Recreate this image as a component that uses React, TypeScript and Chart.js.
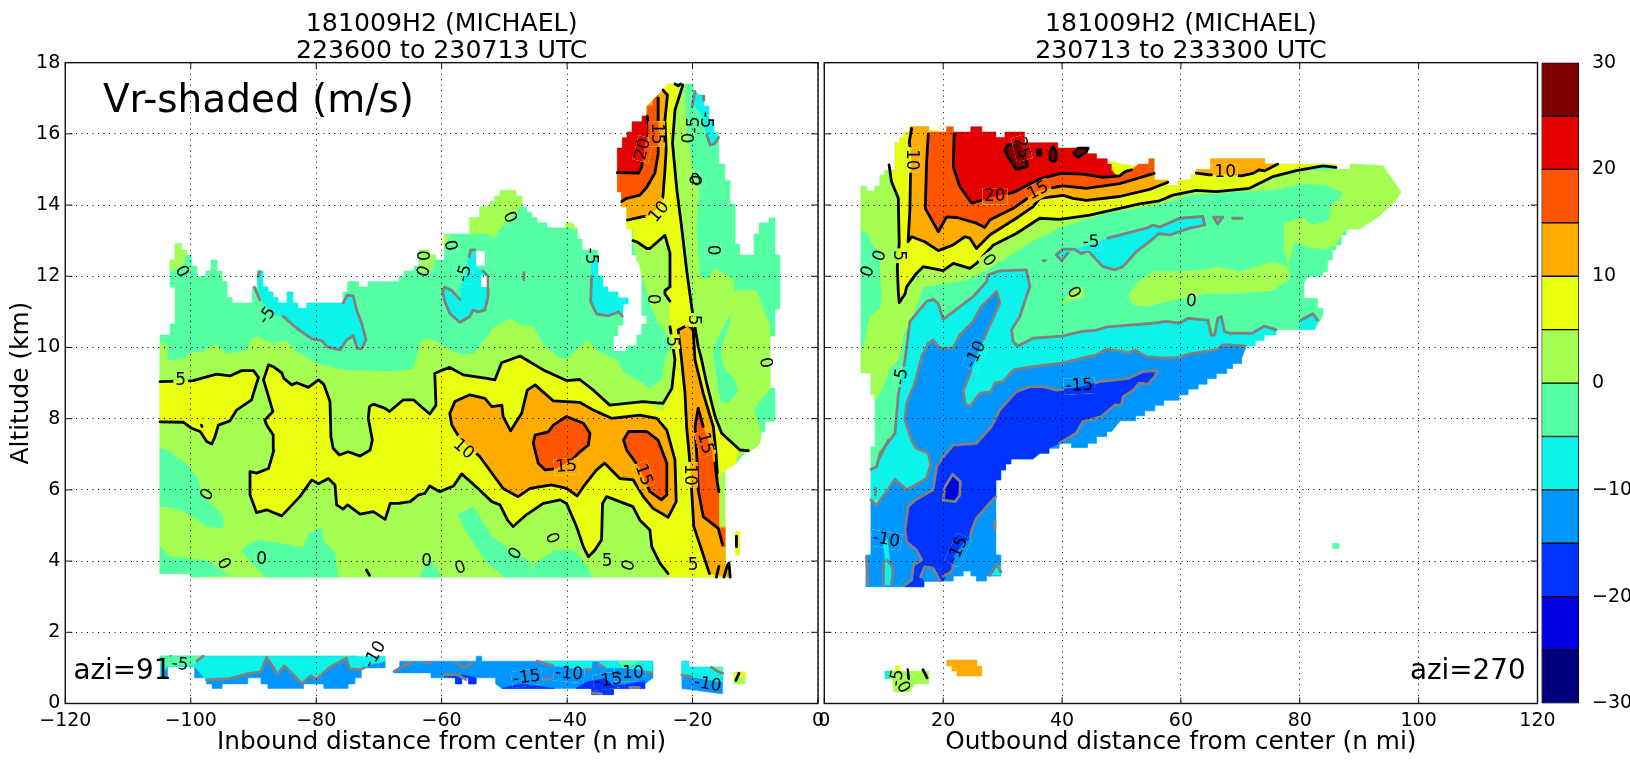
import { useEffect, useRef } from 'react';
import Chart from 'chart.js/auto';

type Pts = number[][];
type Lab = [number, number, string, number];

const levels = [-30, -25, -20, -15, -10, -5, 0, 5, 10, 15, 20, 25];
const levelColors = ['#00007f', '#0000e3', '#0033ff', '#0096ff', '#0cf4ea', '#55ffa4', '#a4ff52', '#e8ff0f', '#ffab00', '#ff5500', '#e50000', '#7f0000'];
const xTicksLeft = [-120, -100, -80, -60, -40, -20, 0];
const xTicksRight = [0, 20, 40, 60, 80, 100, 120];

// ---- left panel, main body outline
const lOutline: Pts = [[-104.9,10.35],[-103.3,10.35],[-103.3,10.66],[-102.5,10.66],[-102.5,11.69],[-103.3,11.69],[-103.3,12.46],[-102.5,12.46],[-102.5,12.91],[-101.5,12.91],[-101.5,12.74],[-100.65,12.74],[-100.65,12.6],[-99.86,12.6],[-99.86,12.29],[-99,12.29],[-99,12],[-97.6,12],[-97.6,12.15],[-96.8,12.15],[-96.8,12.46],[-95.8,12.46],[-95.8,12.15],[-95,12.15],[-95,11.85],[-94.2,11.85],[-94.2,11.4],[-93.4,11.4],[-93.4,11.25],[-90.2,11.25],[-90.2,11.69],[-89.4,11.69],[-89.4,12.15],[-88.5,12.15],[-88.5,11.7],[-87.7,11.7],[-87.7,11.56],[-86.9,11.56],[-86.9,11.4],[-86.1,11.4],[-86.1,11.25],[-84.65,11.25],[-84.65,11.56],[-83.7,11.56],[-83.7,11.25],[-82.9,11.25],[-82.9,11.1],[-81.5,11.1],[-81.5,11.25],[-75.7,11.25],[-75.7,11.56],[-75,11.56],[-75,11.85],[-73.2,11.85],[-73.2,11.7],[-71.75,11.7],[-71.75,11.85],[-66.8,11.85],[-66.8,12],[-66,12],[-66,12.15],[-64.4,12.15],[-64.4,12.29],[-63.6,12.29],[-63.6,12.74],[-62,12.74],[-62,12.6],[-61,12.6],[-61,12.46],[-59.6,12.46],[-59.6,13.19],[-55.5,13.19],[-55.5,13.64],[-53.9,13.64],[-53.9,13.95],[-52.3,13.95],[-52.3,14.09],[-51.5,14.09],[-51.5,14.25],[-50.7,14.25],[-50.7,14.4],[-48.15,14.4],[-48.15,14.25],[-47.2,14.25],[-47.2,13.95],[-46.4,13.95],[-46.4,13.8],[-45.6,13.8],[-45.6,13.65],[-44.8,13.65],[-44.8,13.5],[-43.2,13.5],[-43.2,13.36],[-40.2,13.36],[-40.2,13.5],[-39.2,13.5],[-39.2,13.36],[-38.4,13.36],[-38.4,13.05],[-37.6,13.05],[-37.6,12.74],[-35.1,12.74],[-35.1,12],[-34.3,12],[-34.3,11.7],[-33.5,11.7],[-33.5,11.56],[-31.9,11.56],[-31.9,11.39],[-30.3,11.39],[-30.3,11.22],[-31.1,11.22],[-31.1,10.62],[-31.9,10.62],[-31.9,10.32],[-32.6,10.32],[-32.6,9.9],[-30.5,9.9],[-30.5,10.05],[-28.9,10.05],[-28.9,10.35],[-28.1,10.35],[-28.1,10.66],[-27.3,10.66],[-27.3,10.9],[-28.1,10.9],[-28.1,12.43],[-28.9,12.43],[-28.9,12.6],[-29.66,12.6],[-29.66,13.33],[-30.5,13.33],[-30.5,13.95],[-31.3,13.95],[-31.3,14.37],[-32,14.37],[-32,15.6],[-31.2,15.6],[-31.2,15.89],[-30.45,15.89],[-30.45,16.05],[-29.65,16.05],[-29.65,16.34],[-28.05,16.34],[-28.05,16.5],[-27.25,16.5],[-27.25,16.78],[-26.3,16.78],[-26.3,16.95],[-25.5,16.95],[-25.5,17.09],[-24.7,17.09],[-24.7,17.23],[-23.9,17.23],[-23.9,17.4],[-19.87,17.4],[-19.87,17.23],[-19,17.09],[-18.2,17.09],[-18.2,16.78],[-17.4,16.78],[-17.4,16.34],[-16.6,16.34],[-16.6,16.05],[-15.8,16.05],[-15.8,15.15],[-14.85,15.15],[-14.85,14.7],[-14.04,14.7],[-14.04,14.03],[-13.2,14.03],[-13.2,12.9],[-12.45,12.9],[-12.45,12.6],[-10.2,12.6],[-10.2,13.19],[-9.4,13.19],[-9.4,13.5],[-7.8,13.5],[-7.8,13.64],[-6.85,13.64],[-6.85,12.6],[-6.06,12.6],[-6.06,11.08],[-6.85,11.08],[-6.85,10.32],[-7.65,10.32],[-7.65,8.86],[-6.85,8.86],[-6.85,7.93],[-8.45,7.93],[-8.45,7.63],[-9.25,7.63],[-9.25,7.31],[-10.05,7.31],[-10.05,7.17],[-10.85,7.17],[-11.65,7.03],[-12.45,6.89],[-13.2,6.73],[-14.8,6.56],[-15.8,6.42],[-15.8,4.97],[-14.8,4.97],[-14.8,3.9],[-14,3.55],[-100,3.55],[-100,3.65],[-104.9,3.65]];
const lHoleA: Pts = [[-54.5,12.7],[-53.1,12.7],[-53.1,12.3],[-54.5,12.3]];
const lHoleB: Pts = [[-53.7,12],[-52.3,12],[-52.3,11.7],[-53.7,11.7]];

// ---- left panel, 0..5 areas
const lMainZero: Pts = [[-104.9,10.12],[-103.8,10.12],[-103.7,9.63],[-101.2,9.67],[-99.9,9.85],[-98,9.88],[-95.9,10.1],[-94.3,9.82],[-90.8,9.93],[-90.55,10.2],[-89.5,10.3],[-86.8,10.1],[-84.7,10.18],[-83.1,9.88],[-80,9.55],[-75.7,9.37],[-67.7,9.32],[-64.5,9.4],[-63.7,9.93],[-63.2,10.2],[-61.9,10.26],[-58.1,9.88],[-56.6,9.79],[-54.7,9.84],[-51.8,10.54],[-49.1,10.82],[-47.5,10.63],[-45.4,10.59],[-43.8,10.07],[-41.1,9.7],[-39.8,9.7],[-36.9,10.21],[-35.3,9.93],[-33.2,9.74],[-32.1,9.65],[-30.75,9.27],[-28.4,9.04],[-26.8,8.85],[-24.9,9.09],[-24.4,9.65],[-23.6,10],[-22.5,9.93],[-14.8,6.56],[-14.8,3.9],[-14,3.55],[-100,3.55],[-100,3.65],[-104.9,3.65]];
const lTowerZero: Pts = [[-22,17.4],[-21.2,17.4],[-21.1,16.5],[-20.7,15.9],[-20.2,15.2],[-19.9,14.99],[-18.9,14.42],[-19.45,13.39],[-18.9,11.99],[-17.8,11.9],[-16.4,12.22],[-13.5,11.9],[-13.2,11.15],[-15.1,10.58],[-16.7,10.02],[-16.7,9.65],[-16.1,9.05],[-15.6,8.48],[-14.3,8.43],[-12.7,8.76],[-13.2,9.1],[-14.8,9.4],[-15.3,9.65],[-15.4,10],[-14,10.7],[-13.2,11.6],[-9.8,11.6],[-7.65,10.58],[-7.65,8.85],[-8.7,8.62],[-10.3,8.24],[-9,7.6],[-9.25,7.31],[-10.05,7.17],[-11.65,7.03],[-14,6.9],[-21,9],[-22.5,9.93],[-25.7,10.78],[-26.8,11.24],[-27.9,11.9],[-28.7,12.45],[-29.5,13],[-28,13.3],[-24,17.4]];
const lCapA: Pts = [[-55.5,13.64],[-53.9,13.64],[-53.9,13.95],[-52.3,13.95],[-52.3,14.09],[-51.5,14.09],[-51.5,14.25],[-50.7,14.25],[-50.7,14.4],[-48.15,14.4],[-48.15,14.25],[-47.2,14.25],[-47.3,13.96],[-49.1,13.58],[-50.7,13.35],[-51.5,13.07],[-52.8,13.2],[-55.5,13.2]];
const lCapB: Pts = [[-103.3,12.46],[-102.5,12.46],[-102.5,12.91],[-101.5,12.91],[-101.5,12.74],[-100.65,12.74],[-101.2,12.3],[-103.3,12.15]];
const lCapC: Pts = [[-59.6,13.19],[-58.7,13.19],[-59.2,12.9],[-59.6,12.7]];
const lCapD: Pts = [[-63.46,12.74],[-62,12.74],[-62,12.6],[-61,12.6],[-61.5,12.2],[-63.46,12.08]];
const lCapE: Pts = [[-40.2,13.5],[-39.2,13.5],[-38.4,13.3],[-40.2,13.36]];

// ---- left panel, -5..0 patches in the lower part
const lGreenA: Pts = [[-104.9,7.17],[-103.3,7.07],[-100.9,6.75],[-99,6.37],[-98.5,6.05],[-97.2,5.67],[-95.1,5.34],[-94.7,4.92],[-97.5,4.97],[-99.6,5.25],[-102.2,5.48],[-104.9,5.55]];
const lGreenB: Pts = [[-104.9,4.4],[-103.3,4.12],[-97,4],[-94,3.6],[-100,3.55],[-100,3.65],[-104.9,3.65]];
const lGreenC: Pts = [[-91.9,4.31],[-89.5,4.59],[-85.8,4.5],[-82.05,4.36],[-81.2,4.78],[-79.1,4.92],[-78.9,4.59],[-77,4.22],[-76.5,3.55],[-88,3.55],[-90,3.9]];
const lGreenD: Pts = [[-57.35,5.3],[-55,5.53],[-52,4.69],[-49,4.3],[-46,4],[-45.5,3.55],[-50,3.55],[-53,4],[-56,4.8]];
const lGreenE: Pts = [[-45.4,3.9],[-42,4.3],[-39,4.3],[-37,3.9],[-36,3.55],[-45.5,3.55]];
const lGreenF: Pts = [[-63.5,3.55],[-62,4.1],[-60,3.55]];

// ---- left panel, cyan areas
const lCyanA: Pts = [[-89.4,12.15],[-88.5,12.15],[-88.5,11.7],[-87.7,11.7],[-87.7,11.56],[-86.9,11.56],[-86.9,11.4],[-86.1,11.4],[-86.1,11.25],[-84.65,11.25],[-84.65,11.56],[-83.7,11.56],[-83.7,11.25],[-82.9,11.25],[-82.9,11.1],[-81.5,11.1],[-81.5,11.25],[-75.7,11.25],[-75.05,11.47],[-74.1,11.45],[-73.55,11.05],[-72.75,10.68],[-72.05,10.21],[-72.75,9.97],[-73.45,9.97],[-74.1,10.33],[-75.15,10.21],[-76.2,9.93],[-78.3,10.02],[-79.1,10.19],[-80.7,10.24],[-83.1,10.54],[-85.25,10.87],[-86.85,10.91],[-88.4,11.24],[-89.2,11.6]];
const lCyanB: Pts = [[-55.6,12.74],[-54.7,12.74],[-54.5,12.27],[-53.6,12.18],[-52.6,12],[-52.6,11.43],[-53.1,11.05],[-54.2,11],[-55,11.05],[-55.5,10.87],[-57.1,10.7],[-58.7,10.96],[-59.5,11.29],[-59.85,11.6],[-59.5,11.7],[-58.4,11.6],[-57.1,11.35],[-57,11.7],[-56,12.17]];
const lCyanC: Pts = [[-36.1,12.46],[-35.1,12.46],[-35.1,12],[-34.3,12],[-34.3,11.7],[-33.5,11.7],[-33.5,11.56],[-31.9,11.56],[-31.9,11.39],[-30.3,11.39],[-30.3,11.22],[-31,11.22],[-31.2,10.88],[-31.8,11],[-33.4,10.89],[-35.3,10.94],[-36.25,11.29],[-36.1,12]];
const lCyanD: Pts = [[-19.87,17.23],[-19,17.09],[-18.2,17.09],[-18.2,16.78],[-17.4,16.78],[-17.4,16.34],[-16.6,16.34],[-16.6,16.05],[-15.9,15.9],[-16.6,15.7],[-17.2,15.69],[-17.75,15.97],[-18.5,16.53],[-19.87,16.81]];

// ---- left panel, 5..10 contour sections
const lFiveIsland: Pts = [[-104.9,9.04],[-99.6,9.07],[-95.9,9.25],[-93.75,9.2],[-91.9,9.35],[-90,9.35],[-89.2,9.16],[-90,8.71],[-90.3,8.53],[-92.7,8.24],[-93.75,7.94],[-95.6,7.82],[-96.15,7.49],[-96.65,7.29],[-97.45,7.36],[-98.5,7.64],[-99.85,7.73],[-101.2,7.9],[-104.9,7.91]];
const lFiveUpper: Pts = [[-88.4,9.09],[-87.6,9.51],[-86.85,9.46],[-85.5,9.29],[-85.15,9.13],[-83.9,8.95],[-83.1,9.01],[-81.25,8.88],[-79.65,9.09],[-78.8,8.97],[-77.8,8.48],[-77.65,7.49],[-77.3,7.17],[-76.3,6.98],[-74.9,7.07],[-73,6.95],[-71.4,7.12],[-71.05,7.4],[-71.7,8.01],[-71.5,8.34],[-70.9,8.41],[-69,8.29],[-68.3,8.2],[-66.1,8.53],[-64.5,8.53],[-61.9,8.13],[-60.9,8.38],[-61.1,9.27],[-60.5,9.32],[-58.7,9.44],[-56.55,9.23],[-52.8,9.13],[-51.5,9.09],[-50.45,9.57],[-47.5,9.76],[-43.8,9.37],[-40.1,9.07],[-38,9.1],[-35.8,8.8],[-33.2,8.38],[-27.9,8.48],[-24.7,8.43],[-23.3,8.85],[-22.8,9.65],[-23.6,10.58]];
const lFiveLower: Pts = [[-23.9,3.65],[-25.2,3.94],[-26.5,4.4],[-26.8,4.87],[-28.4,5.15],[-29.5,5.53],[-31.6,5.67],[-33.7,5.81],[-34.35,5.62],[-34.5,4.6],[-35.55,4.31],[-36.6,4.12],[-37.4,4.4],[-38.5,4.97],[-40.1,5.62],[-41.1,5.72],[-43.8,5.62],[-46.5,5.3],[-48.6,4.97],[-49.5,5.15],[-50.7,5.58],[-52,5.67],[-54.2,6.04],[-56.8,6.45],[-58.1,6.11],[-60.3,5.95],[-61.9,6.11],[-62.7,5.9],[-63.7,5.86],[-65,5.67],[-66.9,5.62],[-68.2,5.62],[-69,5.17],[-70.9,5.39],[-73,5.32],[-75,5.58],[-75.7,5.46],[-76.75,5.58],[-77,6.14],[-78.05,6.32],[-79.65,6.17],[-80.7,6.28],[-82.6,5.81],[-85.5,5.27],[-87.9,5.44],[-89.5,5.36],[-90.55,5.86],[-90.55,6.51],[-89.5,6.47],[-87.6,6.6],[-86.75,7.12],[-86.85,7.54],[-87.9,7.82],[-88.2,7.96],[-86.9,8.2],[-87.6,8.62],[-88.4,9.09]];
const lFiveTowerRight: Pts = [[-21.55,17.37],[-22.8,16.67],[-23.2,15.74],[-22.5,14.42],[-21.75,13.39],[-20.95,12.18],[-20.15,11.15],[-19.45,10.4],[-19.1,10.02],[-18.55,9.65],[-17.75,8.99],[-16.4,8.06],[-15.35,7.59],[-12.45,7.12],[-11.1,7.1]];
const lFiveTowerLeft: Pts = [[-23.6,11.3],[-24.4,11.5],[-24.4,11.6],[-23.6,11.7],[-23.6,12.65],[-24.4,13.15],[-26.8,12.78],[-27.3,12.78],[-28.9,12.97],[-29.5,13]];
const lYellowTower: Pts = [[-23.9,17.4],[-21.55,17.4],...lFiveTowerRight.slice(1, 14),[-13.2,6.73],[-14.8,6.56],[-15.8,6.42],[-15.8,4.97],[-14.8,4.97],[-14.8,3.9],[-14,3.55],[-23.9,3.55],[-24,5],[-22.6,5.67],[-22.8,6.84],[-24.7,8.43],[-23.3,8.85],[-22.8,9.65],[-23.6,10.58],...lFiveTowerLeft,[-29.5,13.33],[-30.5,13.33],[-30.5,13.95],[-31.3,13.95],[-31.3,14.2],[-26,16.5],[-25.5,17.09],[-24.7,17.23]];
const lYellowMain: Pts = [...lFiveUpper.slice(0, 41),[-22,8],[-22,3.55],...lFiveLower];
const lYellowBit: Pts = [[-13.2,4.83],[-12.45,4.83],[-12.45,4.17],[-13.2,4.17]];

// ---- left panel, 10..15 and up
const lOrangeMain: Pts = [[-58.4,7.82],[-58.7,8.15],[-57.9,8.48],[-55.5,8.67],[-53.1,8.57],[-52,8.34],[-50.4,8.38],[-50.2,8.06],[-49,7.66],[-47.25,8.15],[-46.35,8.8],[-45.1,8.95],[-42.2,8.5],[-38,8.46],[-35.8,8.24],[-32.9,8.01],[-28.4,8.1],[-25.7,8.01],[-24.1,7.68],[-22.8,6.84],[-22.6,5.67],[-23.9,5.23],[-26.3,5.48],[-27.85,5.81],[-29.45,6.28],[-31.6,6.32],[-34,6.75],[-35.3,6.56],[-37.4,6.09],[-38.4,5.83],[-40.1,6.04],[-42.5,6.14],[-45.9,6.04],[-47.8,5.81],[-50.2,6.04],[-53.9,6.93],[-57.1,7.45],[-58.4,7.82]];
const lFifteenA: Pts = [[-45.4,7.31],[-45.1,7.54],[-43,7.63],[-42.2,7.82],[-40.1,8.06],[-37.4,7.87],[-36.35,7.59],[-36.6,7.26],[-37.95,7.07],[-39.3,6.84],[-41.7,6.6],[-43.5,6.56],[-44.6,6.75],[-45.4,7.31]];
const lFifteenB: Pts = [[-31,7.4],[-30.2,7.64],[-27.3,7.64],[-25.5,7.4],[-24.1,6.75],[-24.1,5.86],[-24.95,5.72],[-26.8,5.95],[-28.4,6.6],[-30.5,7.12],[-31,7.4]];
const lTenStripLeft: Pts = [[-19.9,10.49],[-20.7,10.63],[-22.3,10.49],[-21.75,9.65],[-21.2,8.71],[-20.95,7.78],[-20.5,6.93],[-20.15,6],[-19.8,4.97],[-18.55,4.31],[-17.3,3.65]];
const lTenStripRight: Pts = [[-19.9,10.49],[-19.6,9.65],[-18.3,8.71],[-16.7,7.78],[-16.3,7.12],[-16.05,6.47]];
const lOrangeStrip: Pts = [...lTenStripLeft,[-14,3.55],[-14.8,3.9],[-14.8,4.97],[-15.8,4.97],[-15.8,6.42],[-16.05,6.47],[-16.3,7.12],[-16.7,7.78],[-18.3,8.71],[-19.6,9.65]];
const lFifteenStrip: Pts = [[-19.1,8.29],[-19.6,7.78],[-19.35,7.03],[-19.1,6],[-18.3,5.25],[-15.9,4.92],[-14.8,4.92],[-14.8,4.4],[-15.2,4.45],[-15.8,4.97],[-15.8,5.95],[-16.45,6.47],[-16.96,7.12],[-18.3,7.78]];
const lTowerTen: Pts = [[-24.7,17.23],[-24,17.09],[-24.4,16.39],[-24.2,15.55],[-24.4,14.99],[-24.7,14.28],[-24.9,14.05],[-26.8,13.7],[-28.1,13.67],[-30.4,13.58]];
const lTowerOrange: Pts = [[-31.3,13.95],[-30.5,13.95],[-30.4,13.58],[-28.1,13.67],[-26.8,13.7],[-24.9,14.05],[-24.7,14.28],[-24.4,15],[-24.4,16.39],[-24,17.09],[-24.7,17.23],[-25.5,17.09],[-26.3,16.95],[-27.25,16.78],[-28,15],[-31.3,14.37]];
const lTowerFifteen: Pts = [[-25.5,17],[-25.5,16.5],[-25.45,15.45],[-26,14.9],[-27.3,14.5],[-28.4,14.28],[-30.5,14.19],[-31.3,14.1]];
const lTowerRedOrange: Pts = [[-32,14.91],[-32,14.37],[-31.3,14.37],[-31.3,14.1],[-30.5,14.19],[-28.4,14.28],[-27.3,14.5],[-26,14.9],[-25.45,15.45],[-25.5,17.09],[-26.3,16.95],[-26.3,16.78],[-27.25,16.78],[-27.25,16.5],[-26.9,16.06],[-27.6,15.73],[-28.1,15.08],[-28.6,14.9]];
const lTowerTwenty: Pts = [[-27.2,16.5],[-26.9,16.06],[-27.6,15.73],[-28.1,15.08],[-28.6,14.9],[-32,14.91]];
const lTowerRed: Pts = [[-32,14.91],[-32,15.6],[-31.2,15.6],[-31.2,15.89],[-30.45,15.89],[-30.45,16.05],[-29.65,16.05],[-29.65,16.34],[-28.05,16.34],[-28.05,16.5],[-27.25,16.5],[-26.9,16.06],[-27.6,15.73],[-28.1,15.08],[-28.6,14.9]];

// ---- left panel, low level strips
const lStripA: Pts = [[-104.8,1.33],[-73.4,1.33],[-73.4,1.19],[-69,1.19],[-69,1],[-72.8,1],[-72.8,0.72],[-73.8,0.72],[-73.8,0.55],[-74.9,0.55],[-74.9,0.42],[-78.8,0.42],[-78.8,0.55],[-82,0.55],[-82,0.42],[-87.7,0.42],[-87.7,0.55],[-88.8,0.55],[-88.8,0.72],[-90.9,0.72],[-90.9,0.55],[-95,0.55],[-95,0.42],[-96.6,0.42],[-96.6,0.55],[-97.5,0.55],[-97.5,0.72],[-99.4,0.72],[-99.4,1.04],[-103.7,1.04],[-103.7,0.72],[-104.8,0.72]];
const lStripACyanEdge: Pts = [[-97.5,0.66],[-93.7,0.7],[-90.9,0.84],[-88.8,0.89],[-87.9,1.29],[-87,1.06],[-86.2,0.82],[-85.1,1.06],[-83.7,0.82],[-82.3,0.55],[-80.9,0.78],[-79.9,0.68],[-78,1],[-75.2,1.27]];
const lStripACyan: Pts = [[-104.8,1.33],[-75.2,1.33],...lStripACyanEdge.slice().reverse(),[-99.4,1.04],[-103.7,1.04],[-104.8,0.72]];
const lStripATail: Pts = [[-75.2,1.27],[-74.7,0.98],[-73,0.95],[-71.2,1.1],[-69,1.19],[-69,1.33],[-75.2,1.33]];
const lStripAGreen: Pts = [[-104.8,1.33],[-98,1.33],[-99.4,1.1],[-103.5,1.04],[-104.8,1.1]];
const lStripB: Pts = [[-66.7,1.19],[-54.5,1.19],[-54.5,1.33],[-53.6,1.33],[-53.6,1.19],[-26.3,1.19],[-26.3,0.72],[-27.6,0.55],[-27.6,0.42],[-32.6,0.42],[-32.6,0.25],[-36.1,0.25],[-36.1,0.42],[-50.4,0.42],[-51.4,0.55],[-51.4,0.72],[-54.5,0.72],[-54.5,0.55],[-55.7,0.55],[-55.7,0.72],[-56.8,0.72],[-56.8,0.55],[-57.8,0.55],[-57.8,0.72],[-61.7,0.72],[-61.7,0.86],[-67.6,0.86],[-66.7,1.05]];
const lStripBCyanA: Pts = [[-44.8,1.19],[-36,1.19],[-36.1,0.95],[-37.7,0.97],[-42,1.05]];
const lStripBCyanB: Pts = [[-35,1.19],[-26.3,1.19],[-26.5,0.85],[-28,0.95],[-31,1],[-34,1]];
const lStripBGreen: Pts = [[-32,1.19],[-28.5,1.19],[-30,1.05],[-31,1]];
const lStripBDarkA: Pts = [[-59.6,0.75],[-57.8,0.72],[-57.8,0.55],[-56.8,0.55],[-56.8,0.72],[-55.7,0.72],[-55.7,0.55],[-54.5,0.55],[-54.5,0.72],[-56.5,0.8]];
const lStripBDarkB: Pts = [[-50.4,0.42],[-47.5,0.55],[-45,0.5],[-42,0.42]];
const lStripBDarkC: Pts = [[-38.6,0.42],[-37,0.6],[-34,0.7],[-32.6,0.5],[-30,0.55],[-27.6,0.65],[-27.6,0.42],[-32.6,0.42],[-32.6,0.25],[-36.1,0.25],[-36.1,0.42]];
const lStripC: Pts = [[-21.7,1.19],[-20.6,1.19],[-20.6,1.02],[-15.2,1.02],[-15.2,0.27],[-21.7,0.42]];
const lStripCCyan: Pts = [[-21.7,1.19],[-20.6,1.19],[-20.6,1.02],[-15.2,1.02],[-15.2,0.6],[-18.6,0.7],[-21.7,0.8]];
const lStripCGreen: Pts = [[-17,1.02],[-15.2,1.02],[-15.2,0.86],[-16,0.9]];
const lStripDGreen: Pts = [[-13.4,0.88],[-11.6,0.88],[-11.6,0.55],[-13.4,0.55]];
const lStripDYellow: Pts = [[-13.4,0.88],[-11.6,0.88],[-11.6,0.72],[-13.4,0.72]];

const leftBands: [number, Pts][] = [
  [-5, lOutline], [0, lMainZero], [0, lTowerZero], [0, lCapA], [0, lCapB], [0, lCapC], [0, lCapD], [0, lCapE],
  [-5, lGreenA], [-5, lGreenB], [-5, lGreenC], [-5, lGreenD], [-5, lGreenE], [-5, lGreenF],
  [-10, lCyanA], [-10, lCyanB], [-10, lCyanC], [-10, lCyanD],
  [5, lFiveIsland], [5, lYellowMain], [5, lYellowTower], [5, lYellowBit],
  [10, lOrangeMain], [10, lOrangeStrip], [10, lTowerOrange], [15, lFifteenA], [15, lFifteenB], [15, lFifteenStrip], [15, lTowerRedOrange], [20, lTowerRed],
  [-15, lStripA], [-10, lStripACyan], [-10, lStripATail], [-5, lStripAGreen],
  [-15, lStripB], [-10, lStripBCyanA], [-10, lStripBCyanB], [-5, lStripBGreen], [-20, lStripBDarkA], [-20, lStripBDarkB], [-20, lStripBDarkC],
  [-15, lStripC], [-10, lStripCCyan], [-5, lStripCGreen], [0, lStripDGreen], [5, lStripDYellow],
];

const leftBlack: Pts[] = [
  lFiveIsland, lFiveUpper, lFiveLower, lFiveTowerRight, lFiveTowerLeft, lOrangeMain, lFifteenA, lFifteenB,
  lTenStripLeft, lTenStripRight, lTowerTen, lTowerFifteen, lTowerTwenty,
  [[-19.1,8.29],[-19.6,7.78],[-19.35,7.03],[-19.1,6],[-18.3,5.25],[-15.9,4.92],[-15.2,4.45]],
  [[-19.1,8.29],[-18.3,7.78]],
  [[-16.45,6.75],[-16.05,6.2],[-15.8,5.95]],
  [[-22.8,17.4],[-22.3,17.35],[-21.9,17.4]],
  [[-13,4.7],[-13,4.4]],
  [[-14.2,3.95],[-14,3.55]], [[-15,3.55],[-14.4,3.9]], [[-16.2,3.55],[-15.8,3.85]],
  [[-98.3,7.82],[-98.2,7.78]],
  [[-12.6,0.85],[-13.1,0.65]],
  [[-72,3.75],[-71.5,3.6]],
];
const leftGrey: Pts[] = [
  [[-89,12.13],[-89.3,11.99]],
  [[-89.85,11.69],[-88.96,11.33]],
  [[-85.25,10.87],[-83.1,10.54],[-80.7,10.24],[-79.1,10.19],[-78.3,10.02],[-76.2,9.93],[-75.15,10.21],[-74.1,10.33],[-73.45,9.97],[-72.75,9.97],[-72.05,10.21],[-72.75,10.68],[-73.55,11.05],[-74.1,11.45],[-75.05,11.47],[-75.7,11.25]],
  [[-57.1,11.35],[-58.4,11.6],[-59.5,11.7],[-59.85,11.6],[-59.5,11.29],[-58.7,10.96],[-57.1,10.7],[-55.5,10.87],[-55,11.05],[-54.2,11],[-53.1,11.05],[-52.6,11.43],[-52.6,12],[-53.4,12.15]],
  [[-55.6,12.55],[-55.4,12.74],[-54.7,12.74]],
  [[-36.1,12],[-36.25,11.29],[-35.3,10.94],[-33.4,10.89],[-31.8,11],[-31.2,10.88]],
  [[-46.9,12.1],[-46.9,11.9]],
  [[-19.6,17.19],[-20.1,16.77]],
  [[-18.3,17.05],[-18.2,16.95]],
  [[-17.75,15.97],[-17.2,15.69],[-16.5,15.72],[-15.85,15.9]],
  lStripACyanEdge,
  [[-75.2,1.27],[-74.7,0.98],[-73,0.95],[-71.2,1.1]],
  [[-103.2,1.33],[-102.5,1.2]], [[-99,1.2],[-98,1.33]],
  [[-67.6,0.9],[-65.7,1.09],[-64.6,1.14]], [[-62.8,1.14],[-61.7,1.14]], [[-57.8,1.14],[-56.4,1],[-55,1.14]],
  [[-59.6,0.81],[-57.5,0.81],[-56.1,0.67]],
  [[-44.8,1.19],[-42,1.05],[-40,0.98]], [[-37.7,0.97],[-36.1,0.95]],
  [[-45,0.65],[-42,0.72],[-40,0.7],[-38,0.68]],
  [[-35,1.1],[-34,1]], [[-29,0.98],[-26.5,0.85]],
  [[-34,0.6],[-32,0.55]], [[-30,0.45],[-28.5,0.45]], [[-36,0.3],[-34.5,0.28]],
  [[-17,1.02],[-16,0.9],[-15.2,0.85]],
  [[-21.7,0.8],[-18.6,0.7],[-16,0.55]],
];
const leftLabels: Lab[] = [
  [-101.45,12.13,'0',60],[-87.75,10.89,'-5',-55],[-63.2,12.58,'0',90],[-62.75,12.13,'0',-70],[-58.7,12.86,'0',80],[-49.2,13.65,'0',65],
  [-56.3,12.08,'-5',-75],[-36.25,12.57,'-5',90],[-19.35,14.68,'0',-20],[-16.8,12.73,'0',90],[-26.4,11.36,'0',90],[-19.9,10.77,'5',90],[-23.3,10.16,'5',90],
  [-25.3,13.8,'10',-50],[-8.45,9.57,'0',80],[-101.6,9.07,'5',0],[-97.3,5.86,'0',-60],[-94.8,3.92,'0',60],[-88.7,4.05,'0',0],[-62.4,3.98,'0',0],
  [-56.55,7.14,'10',40],[-40.1,6.65,'15',-5],[-27.85,6.42,'15',70],[-18,7.31,'15',75],[-20.5,6.42,'10',90],[-42.5,4.64,'0',70],[-48.15,4.2,'0',-60],
  [-33.6,3.98,'5',0],[-30.1,3.87,'0',-70],[-19.9,3.86,'5',0],[-57,3.8,'0',-20],
  [-27.85,15.57,'20',-75],[-25.7,16,'15',90],[-21.2,15.88,'0',90],[-18,16.39,'-5',90],[-19.6,16.25,'-5',-90],[-19.2,14.7,'0',-85],
  [-101.7,1.09,'-5',5],[-70.6,1.37,'-10',-60],[-46.4,0.72,'-15',-8],[-39.7,0.83,'-10',5],[-33.4,0.64,'-15',-8],[-30,0.85,'-10',0],[-17.6,0.53,'-10',10],
];

// ---- right panel
const rTopEdge: Pts = [[6.17,14.53],[7.1,14.53],[7.1,14.39],[8.53,14.39],[8.53,14.53],[9.37,14.53],[9.37,14.84],[10.2,14.84],[10.2,14.98],[11.9,14.98],[11.9,15.75],[12.7,15.75],[12.7,15.9],[13.4,15.9],[13.4,16.05],[14.4,16.05],[14.4,16.2],[17.6,16.2],[17.6,16.05],[20.57,16.05],[20.57,16.2],[21.7,16.2],[21.7,16.05],[24.65,16.05],[24.65,16.2],[26.5,16.2],[26.5,16.05],[28.86,16.05],[28.86,15.9],[30.4,15.9],[30.4,16.05],[33.7,16.05],[33.7,15.75],[39.3,15.75],[39.3,15.6],[44.26,15.6],[44.26,15.44],[45.8,15.44],[45.8,15.3],[47.6,15.3],[47.6,15.15],[48.3,15.15],[48.3,15],[49,14.85],[50,14.85],[50,15],[52.9,15],[52.9,15.15],[54.6,15.15],[54.6,15.3],[55.5,15.3],[55.5,14.7],[57.8,14.7],[57.8,14.55],[59.5,14.55],[59.5,14.7],[61.75,14.7],[61.75,14.85],[62.6,14.85],[62.6,15],[65,15],[65,15.3],[74.1,15.3],[74.1,15.15],[86.1,15.15],[86.1,15],[88.5,15],[88.5,15.15],[94,15.1],[97,14.37]];
const rLowerRight: Pts = [[96,14.1],[93,13.64],[90,13.33],[87.8,13.33],[87.8,13.16],[87,13.16],[87,12.88],[86.1,12.88],[86.1,12.74],[85.5,12.74],[85.5,12.46],[84.7,12.46],[84.7,12.13],[83.9,12.13],[83.9,11.99],[81.3,11.99],[80.7,11.8],[80.7,11.38],[83,11.38],[83,11.1],[83.9,11.1],[83.9,10.9],[83.2,10.7],[82.5,10.5],[76,10.5],[76,10.35],[74,10.35],[74,10.2],[72.5,10.2],[72.5,10.04]];
const rStair: Pts = [[71,10.04],[70.2,9.7],[70.2,9.55],[68.7,9.55],[68.7,9.41],[67.7,9.41],[67.7,9.27],[65.95,9.27],[65.95,9.13],[64.4,9.13],[64.4,8.97],[62.9,8.97],[62.9,8.83],[61.2,8.83],[61.2,8.67],[59.7,8.67],[59.7,8.52],[57.1,8.52],[57.1,8.38],[55.6,8.38],[55.6,8.22],[53.9,8.22],[53.9,8.08],[52.4,8.08],[52.4,7.94],[49.8,7.94],[48.3,7.64],[47.5,7.64],[47.5,7.5],[45.8,7.5],[45.8,7.31],[44.3,7.31],[44.3,7.19],[41.6,7.19],[41.6,7.31],[39.5,7.31],[39.5,7.17],[37.8,7.17],[37.8,7.03],[36.25,7.03],[35.1,6.87],[31.4,6.87],[31.4,6.73],[30.5,6.73],[30.5,6.56],[29.7,6.56],[29.7,6.28],[28.86,6.28],[28.86,4.17],[29.7,4.17],[29.7,3.58],[27.3,3.58],[27.3,3.44],[25.6,3.44],[25.6,3.58],[24.66,3.58],[24.66,3.72],[23.37,3.72],[23.37,3.58],[21.7,3.58],[21.7,3.44],[16.76,3.44],[16.76,3.28],[7.01,3.28],[7.01,4.17],[7.85,4.17]];
const rOutline: Pts = [...rTopEdge, ...rLowerRight, ...rStair, [7.85,7.21],[8.53,7.21],[8.53,8.67],[7.85,8.67],[7.85,9.29],[6.17,9.29]];

const rZeroMain: Pts = [[6.17,14.53],[7.1,14.53],[7.1,14.39],[8.53,14.39],[8.53,14.53],[9.37,14.53],[9.37,14.84],[10.2,14.84],[10.2,14.98],[10.9,14.98],[11.5,14.6],[14,14],[40,14],[62,14.4],[80,14.95],[84.4,14.56],[81,14.61],[75.5,14.42],[69.9,14.38],[61.5,14.28],[55.9,14],[47.5,13.77],[40.2,13.4],[35.1,13],[29.5,12.4],[26.45,12.1],[24,11.9],[20,11.8],[16.65,11.7],[16,11.4],[14.7,10.77],[13.4,10.4],[12.7,9.7],[11,9.4],[9.65,8.8],[8.5,8.5],[8.53,8.67],[7.85,8.67],[7.85,9.29],[6.17,9.29],[6.17,9.84],[7.1,10.4],[7.7,10.87],[9.4,11.1],[9.65,11.43],[9.4,12.3],[9.4,12.64],[8,12.93],[7.4,13.2],[6.17,13.3]];
const rZeroTail: Pts = [[84.4,14.56],[86.5,14.4],[87.3,14.38],[87,14.19],[85.3,14],[85,13.58],[82.2,13.44],[80.5,13.63],[77.4,13.49],[77.4,12.8],[78,12.3],[79,12.95],[81,12.85],[84,12.75],[86.1,12.88],[87,13.16],[87.8,13.33],[90,13.33],[93,13.64],[96,14.1],[97,14.37],[94,15.1],[88.5,15.15],[88.5,15],[86.1,15],[80,14.95]];
const rZeroMid: Pts = [[51.1,11.47],[52.5,11.8],[55.3,12.13],[59.8,12.13],[64.3,12.18],[66,12.27],[69.9,12.13],[75.5,12.4],[78,12.27],[78.3,11.94],[75.5,11.6],[69.9,11.52],[64.8,11.52],[58.7,11.33],[54.2,11.15],[52,11.2]];
const rZeroSmall: Pts = [[39.9,11.24],[42.4,11.71],[43.5,11.66],[43.8,11.43],[41.6,11.33]];

const rMinusFive: Pts = [[7.85,6.58],[8.8,6.65],[9.4,7.03],[11.9,7.59],[12.45,8.67],[13.57,9.65],[14.4,10.73],[17.2,11.29],[18.3,11.35],[19.17,11.24],[20,10.79],[23.37,11.22],[25.05,11.43],[27.3,11.85],[27.57,12.04],[29.5,12.15],[34,12.18],[34.6,11.71],[34,11.43],[32.9,10.87],[31.5,10.49],[31.8,10.16],[32.6,10.04],[35.1,10.26],[39.9,10.32],[43.5,10.45],[45.8,10.49],[47.5,10.58],[51.4,10.63],[55.3,10.68],[57.55,10.73],[59.8,10.68],[61.2,10.82],[64.55,10.77],[65.1,10.35],[65.7,10.35],[66.2,10.82],[66.8,10.87],[67.35,10.45],[68.2,10.4],[72,10.4],[74,10.6],[76,10.5]];
const rCyanMain: Pts = [...rMinusFive,[76,10.35],[74,10.35],[74,10.2],[72.5,10.2],[72.5,10.04],[71,10.04],[50,9],[30,8],[18,6],[7.85,5.7]];
const rCyanBlob: Pts = [[80.2,10.77],[82.2,10.95],[83,10.77],[82.5,10.5],[80,10.5]];
const rUpperRim: Pts = [[47.7,13.07],[54.2,13.35],[55.3,13.44],[56.4,13.38],[59.8,13.63],[63.7,13.68],[64,13.44],[61.5,13.35],[58.1,13.16],[56.3,13.2],[54.7,12.97],[52.5,12.69],[50.25,12.27],[48.85,12.18],[46.9,12.27],[45.5,12.51],[44.4,12.72],[43.25,12.63],[42.1,12.76],[40.2,12.76],[39,12.6],[39.9,12.44],[41,12.65]];
const rCyanUpper: Pts = [[42.1,12.76],[45,12.9],[47.7,13.07],[54.2,13.35],[55.3,13.44],[56.4,13.38],[59.8,13.63],[63.7,13.68],[64,13.44],[61.5,13.35],[58.1,13.16],[56.3,13.2],[54.7,12.97],[52.5,12.69],[50.25,12.27],[48.85,12.18],[46.9,12.27],[45.5,12.51],[44.4,12.72],[43.25,12.63]];
const rCyanPatch: Pts = [[42.1,12.76],[40.2,12.76],[39,12.6],[39.9,12.44],[41,12.65]];
const rCyanDrop: Pts = [[65.5,13.66],[67.05,13.66],[66.2,13.47]];
const rGreenDot: Pts = [[85.5,4.35],[86.6,4.35],[86.6,4.5],[85.5,4.5]];

const rMinusTenUpper: Pts = [[17.5,10.12],[18.3,10.21],[19.45,9.98],[20.57,9.98],[21.7,9.98],[22.8,10.35],[25.05,10.73],[26.45,11.15],[29,11.57],[29.5,11.24],[28.1,10.73],[27,10.3],[25.5,9.7],[24.2,9.13],[23.37,8.8],[23.65,8.43],[24.5,8.34],[26.2,8.71],[28.1,8.76],[28.7,9],[30.1,9.04],[31.8,9.37],[35.1,9.46],[39.9,9.56],[43.5,9.7],[45.8,9.79],[47.5,9.95],[51.4,9.85],[52.2,9.93],[54.2,9.74],[57,9.7],[59.8,9.72],[61.5,9.82],[66,9.93],[67,10.07],[68.2,10.07],[70.8,10.04]];
const rMinusTenLowerA: Pts = [[7.85,5.72],[8.8,5.57],[10.5,5.95],[11.9,6.3],[13.85,6],[17.2,6.32],[17.9,6.7],[17.5,7.03],[15.5,7.17],[14.7,7.4],[13.57,7.96],[13.85,8.43],[15.25,9],[16.4,9.74],[17.5,10.12]];
const rBlueMain: Pts = [...rMinusTenUpper, ...rStair, ...rMinusTenLowerA];

const rMinusFifteenLeft: Pts = [[13.4,3.31],[14.7,3.47],[15,3.89],[16.4,4.03],[15.5,4.31],[13.85,4.54],[13.57,4.87],[14.1,5.53],[15.25,5.71],[18.3,6],[18.9,6.65],[20,6.93],[21.7,7.26],[25.6,7.31],[28.1,7.78],[29.5,8.24],[32.3,8.76],[34.6,8.9],[36.8,8.9],[39.1,8.8],[42.9,8.88],[46.3,9.04],[49.1,9.09],[51.1,9.13],[53.6,9.32],[56.1,9.35],[55.6,9.18],[54.5,8.97],[53,9],[52,8.8],[50.3,8.62],[50,8.38],[48.9,8.38],[46.6,8.06],[43.5,7.91],[42.4,7.59],[39.6,7.31]];
const rMinusFifteenRight: Pts = [[28.86,5.81],[27.3,5.53],[25.6,5.2],[24.8,4.87],[24.5,4.64],[23.37,4.5],[21.7,4.12],[21.6,3.75],[20.6,3.6]];
const rDarkMain: Pts = [...rMinusFifteenLeft,[37.8,7.17],[37.8,7.03],[36.25,7.03],[35.1,6.87],[31.4,6.87],[31.4,6.73],[30.5,6.73],[30.5,6.56],[29.7,6.56],[29.7,6.28],[28.86,6.28],...rMinusFifteenRight,[20,3.44],[16.76,3.44],[16.76,3.28],[13.4,3.28]];
const rBluePatch: Pts = [[16.76,3.44],[16.2,3.56],[16.9,3.84],[18.3,3.8],[19.45,3.44]];
const rDarker: Pts = [[20,5.71],[20.3,6.09],[21.6,6.44],[22.9,6.23],[22.8,5.85],[22,5.67],[20,5.71]];
const rCyanThin: Pts = [[9.93,4.45],[10.6,4.64],[10.9,4.17],[11.3,3.64],[11.3,3.33],[10.2,3.33],[10.2,4.12]];
const rCyanCorner: Pts = [[27.85,3.6],[29,3.9],[29.7,3.85],[29.7,3.6]];

const rFive: Pts = [[12.28,12.27],[12.45,11.57],[12.6,11.26],[13.57,11.5],[13.85,11.7],[15.5,12.08],[16.65,12.27],[20,12.16],[21.7,12.36],[24.5,12.22],[25.6,12.36],[28.4,12.87],[32.3,13.2],[36.25,13.63],[39.6,13.6],[44.65,13.72],[49.7,13.91],[53.05,14.03],[56.4,14.12],[58.65,14.28],[62.6,14.41],[66,14.38],[71.55,14.47],[75.5,14.8],[79.4,14.97],[83.9,15.1],[86.1,15.06]];
const rFiveLeft: Pts = [[10.9,15.13],[11.3,14.66],[12.45,14.19],[12.6,12.93],[12.45,12.58],[12.28,12.27]];
const rTen: Pts = [[14.7,16.15],[14.3,15.78],[14.7,15.27],[14.5,14.8],[14.4,13.86],[14.1,12.97],[14.7,13.11],[16.9,12.97],[19.2,12.72],[21.7,12.88],[23.65,13.11],[24.5,13.07],[25.6,12.78],[27.85,13.16],[32.3,13.63],[35.1,13.95],[36.25,14.19],[40.2,14.27],[41.85,14.19],[44.1,14.13],[49.7,14.24],[54.75,14.44],[57.8,14.64]];
const rTenTail: Pts = [[62.6,14.9],[64.8,14.85],[67.45,14.87],[70.15,14.82],[72.1,14.89],[73.2,14.99],[74.1,14.96],[76.3,15.15]];
const rFifteen: Pts = [[17.5,16],[17.2,15.17],[17,13.9],[19.2,13.25],[20.57,13.67],[22.25,13.65],[25.6,13.49],[27,13.37],[27.85,13.58],[29.5,13.72],[31.8,13.91],[36,14.4],[38.8,14.5],[40.2,14.54],[44.1,14.47],[49.7,14.6],[55.5,14.89]];
const rTwenty: Pts = [[21.85,16],[21.7,15.08],[22.8,14.52],[24.8,14.05],[28.7,14.25],[31.8,14.35],[36.5,14.75],[39.9,14.89],[43.5,14.87],[46.9,14.78],[49.7,14.82],[50.6,14.94],[51.7,14.99]];
const rYellow: Pts = [[10.9,14.98],[11.9,14.98],[11.9,15.75],[12.7,15.75],[12.7,15.9],[13.4,15.9],[13.4,16.05],[14.4,16.05],[14.4,16.2],[14.8,16.2],[55.5,15],[55.5,14.7],[57.8,14.7],[57.8,14.55],[59.5,14.55],[59.5,14.7],[61.75,14.7],[61.75,14.85],[62.6,14.85],[62.6,15],[65,15],[65,15.15],[86.1,15.15],...rFive.slice().reverse(),...rFiveLeft.slice().reverse()];
const rOrange: Pts = [[14.4,16.2],[17.6,16.2],...rFifteen.slice(0),[55.5,14.7],[57.8,14.7],...rTen.slice().reverse().slice(0, 22)];
const rOrangeTail: Pts = [[65,15.3],[74.1,15.3],[74.1,15.15],[76.3,15.15],[74.1,14.96],[73.2,14.99],[72.1,14.89],[70.15,14.82],[67.45,14.87],[64.8,14.85],[62.6,14.9],[62.6,15],[65,15]];
const rRedOrange: Pts = [[17.6,16.05],[20.57,16.05],[20.57,16.2],[21.7,16.2],[21.7,16.05],...rTwenty,[52.9,15.15],[54.6,15.15],[54.6,15.3],[55.5,15.3],...rFifteen.slice().reverse()];
const rRed: Pts = [[21.85,16.05],[24.65,16.05],[24.65,16.2],[26.5,16.2],[26.5,16.05],[28.86,16.05],[28.86,15.9],[30.4,15.9],[30.4,16.05],[33.7,16.05],[33.7,15.75],[39.3,15.75],[39.3,15.6],[44.26,15.6],[44.26,15.44],[45.8,15.44],[45.8,15.3],[47.6,15.3],[47.6,15.15],[48.3,15.15],[48.3,15],[49,14.85],[49.7,14.82],...rTwenty.slice(0, 11).reverse()];
const rMaroonA: Pts = [[30.4,15.55],[30.9,15.69],[32.9,15.73],[34,15.45],[34.1,15.08],[32.3,15],[30.9,15.36],[30.4,15.55]];
const rMaroonB: Pts = [[35.9,15.55],[36.4,15.55],[36.4,15.4],[35.9,15.4],[35.9,15.55]];
const rMaroonC: Pts = [[38,15.5],[38.5,15.64],[39,15.5],[39,15.27],[38.5,15.22],[38,15.27],[38,15.5]];
const rMaroonD: Pts = [[42,15.45],[42.7,15.6],[44.4,15.6],[44.1,15.5],[42.7,15.34],[42,15.45]];
const rLowA: Pts = [[10.2,0.91],[12,0.91],[12,1.05],[12.7,1.05],[12.7,0.91],[17.6,0.91],[17.6,0.55],[15.2,0.55],[14.4,0.32],[11.7,0.32],[11.4,0.7],[10.2,0.7]];
const rLowCyan: Pts = [[10.2,0.91],[11,0.91],[11,0.7],[10.2,0.7]];
const rLowYellow: Pts = [[12,0.91],[12,1.05],[12.7,1.05],[12.7,0.91]];
const rLowOrange: Pts = [[20.6,1.22],[25.7,1.22],[25.7,1.05],[26.5,1.05],[26.5,0.77],[22.3,0.77],[22.3,0.91],[21.45,0.91],[21.45,1.05],[20.6,1.05]];

const rightBands: [number, Pts][] = [
  [-5, rOutline], [0, rZeroMain], [0, rZeroTail], [0, rZeroMid], [0, rZeroSmall],
  [-10, rCyanMain], [-10, rCyanBlob], [-10, rCyanUpper], [-10, rCyanPatch], [-10, rCyanDrop], [-5, rGreenDot],
  [-15, rBlueMain], [-20, rDarkMain], [-15, rBluePatch], [-25, rDarker], [-10, rCyanThin], [-10, rCyanCorner],
  [5, rYellow], [10, rOrange], [10, rOrangeTail], [15, rRedOrange], [20, rRed],
  [25, rMaroonA], [25, rMaroonB], [25, rMaroonC], [25, rMaroonD],
  [0, rLowA], [-10, rLowCyan], [5, rLowYellow], [10, rLowOrange],
];
const rightBlack: Pts[] = [
  rFive, rFiveLeft, rTen, rTenTail, rFifteen, rTwenty, rMaroonA, rMaroonB, rMaroonC, rMaroonD,
  [[14,0.95],[14.2,0.7]], [[16.6,0.95],[17.3,0.72]],
];
const rightGrey: Pts[] = [
  rMinusFive, rMinusTenUpper, rMinusTenLowerA, rMinusFifteenLeft, rMinusFifteenRight, rUpperRim,
  [[9.37,6.93],[10.76,7.4]],
  [[80.2,10.77],[82.2,10.95],[83,10.77]],
  [[16.2,3.56],[16.9,3.84],[18.3,3.8],[19.45,3.44]],
  [[20,3.58],[21.3,3.68]],
  rDarker,
  [[7.1,4.12],[7.4,3.33]], [[9.93,3.98],[9.93,3.33]], [[10.6,4.03],[11.6,3.79],[11.3,3.33]],
  [[27.85,3.6],[29,3.9],[29.7,3.7]],
  [[28.7,5.15],[28.7,4.9]], [[8.6,6.05],[8.6,5.85]],
  [[65.5,13.66],[67.05,13.66],[66.2,13.47],[65.5,13.66]],
  [[68.7,13.63],[70.3,13.63]],
  [[36.8,12.44],[37.2,12.44]],
];
const rightLabels: Lab[] = [
  [33.2,15.6,'25',75],[14.7,15.27,'10',90],[28.7,14.25,'20',0],[36,14.4,'15',-28],[12.45,12.58,'5',90],[27.6,12.44,'0',55],[9.4,12.57,'0',-70],[7.4,12.13,'0',-70],
  [13,9.18,'-5',-80],[25.5,9.8,'-10',-65],[42.9,8.92,'-15',-3],[41.9,11.54,'0',60],[61.75,11.29,'0',5],[44.9,12.95,'-5',-3],[67.45,14.91,'10',0],
  [10.4,4.59,'-10',10],[22.5,4.31,'-15',-65],[12.3,0.72,'-5',-80],[13.2,0.45,'0',60],
];

const leftNotes: [number, number, string, number, string][] = [
  [-114,16.9,'Vr-shaded (m/s)',39,'left'],
  [-118.7,0.9,'azi=91',27.8,'left'],
];
const rightNotes: [number, number, string, number, string][] = [
  [118,0.9,'azi=270',27.8,'right'],
];

const colorOf = (lo: number) => levelColors[levels.indexOf(lo)];
const toXY = (pts: Pts) => pts.map(([x, y]) => ({ x, y }));

const panelData = (bands: [number, Pts][], black: Pts[], grey: Pts[]) => ({
  datasets: [
    ...bands.map(([lo, pts]) => ({ data: toXY(pts), showLine: false, pointRadius: 0, bandColor: colorOf(lo) })),
    ...grey.map(pts => ({ data: toXY(pts), showLine: true, pointRadius: 0, borderColor: '#808080', borderWidth: 2.8, borderJoinStyle: 'round', borderCapStyle: 'round' })),
    ...black.map(pts => ({ data: toXY(pts), showLine: true, pointRadius: 0, borderColor: '#000', borderWidth: 2.8, borderJoinStyle: 'round', borderCapStyle: 'round' })),
  ],
});

function paintBands(chart: any) {
  const ctx = chart.ctx;
  chart.data.datasets.forEach((ds: any, i: number) => {
    if (!ds.bandColor) return;
    const pts = chart.getDatasetMeta(i).data;
    ctx.beginPath();
    pts.forEach((p: any, k: number) => (k ? ctx.lineTo(p.x, p.y) : ctx.moveTo(p.x, p.y)));
    ctx.closePath();
    ctx.fillStyle = ds.bandColor;
    ctx.strokeStyle = ds.bandColor;
    ctx.lineWidth = 0.5;
    ctx.fill();
    ctx.stroke();
  });
}

function panelPlugin(labels: Lab[], notes: [number, number, string, number, string][], holes: Pts[]) {
  const erase = (chart: any) => {
    const ctx = chart.ctx;
    holes.forEach(h => {
      ctx.beginPath();
      h.forEach(([x, y], k) => {
        const px = chart.scales.x.getPixelForValue(x);
        const py = chart.scales.y.getPixelForValue(y);
        k ? ctx.lineTo(px, py) : ctx.moveTo(px, py);
      });
      ctx.closePath();
      ctx.fillStyle = '#fff';
      ctx.fill();
    });
  };
  return {
    id: 'panel',
    beforeDatasetsDraw(chart: any) {
      paintBands(chart);
      erase(chart);
    },
    afterDatasetsDraw(chart: any) {
      const ctx = chart.ctx;
      const { x: sx, y: sy } = chart.scales;
      ctx.font = '17px "DejaVu Sans"';
      // contour labels sit in a gap of the line, so repaint the fill under each one
      labels.forEach(([x, y, text, rot]) => {
        const w = ctx.measureText(text).width + 3;
        ctx.save();
        ctx.translate(sx.getPixelForValue(x), sy.getPixelForValue(y));
        ctx.rotate((rot * Math.PI) / 180);
        ctx.beginPath();
        ctx.rect(-w / 2, -8, w, 16);
        ctx.restore();
        ctx.save();
        ctx.clip();
        ctx.clearRect(0, 0, chart.width, chart.height);
        paintBands(chart);
        erase(chart);
        ctx.restore();
      });
      ctx.fillStyle = '#000';
      ctx.textAlign = 'center';
      ctx.textBaseline = 'middle';
      labels.forEach(([x, y, text, rot]) => {
        ctx.save();
        ctx.translate(sx.getPixelForValue(x), sy.getPixelForValue(y));
        ctx.rotate((rot * Math.PI) / 180);
        ctx.fillText(text, 0, 0);
        ctx.restore();
      });
      notes.forEach(([x, y, text, size, align]) => {
        ctx.font = `${size}px "DejaVu Sans"`;
        ctx.textAlign = align;
        ctx.fillText(text, sx.getPixelForValue(x), sy.getPixelForValue(y));
      });
    },
    afterDraw(chart: any) {
      const ctx = chart.ctx;
      const { left, right, top, bottom } = chart.chartArea;
      ctx.save();
      ctx.strokeStyle = '#111';
      ctx.lineWidth = 1;
      ctx.beginPath();
      chart.scales.x.ticks.forEach((t: any) => {
        const px = chart.scales.x.getPixelForValue(t.value);
        ctx.moveTo(px, bottom); ctx.lineTo(px, bottom - 6);
        ctx.moveTo(px, top); ctx.lineTo(px, top + 6);
      });
      chart.scales.y.ticks.forEach((t: any) => {
        const py = chart.scales.y.getPixelForValue(t.value);
        ctx.moveTo(left, py); ctx.lineTo(left + 7, py);
        ctx.moveTo(right, py); ctx.lineTo(right - 7, py);
      });
      ctx.stroke();
      ctx.lineWidth = 1.4;
      ctx.strokeRect(left, top, right - left, bottom - top);
      ctx.restore();
    },
  };
}

const minus = (v: number) => String(v).replace('-', '\u2212');

function panelOptions(opts: { title: string[]; xTitle: string; min: number; max: number; xTicks: number[]; showY: boolean; axisWidth: number; padRight: number }) {
  const grid = { color: '#000', lineWidth: 1, drawTicks: false, z: 1 };
  const border = { display: false, dash: [1, 4.5] };
  return {
    responsive: false,
    animation: false as const,
    events: [],
    layout: { padding: { right: opts.padRight } },
    plugins: {
      legend: { display: false },
      tooltip: { enabled: false },
      title: {
        display: true,
        fullSize: false,
        text: opts.title,
        color: '#000',
        font: { size: 25.2, weight: 'normal', lineHeight: 1.11 },
        padding: { top: 10, bottom: -3.3 },
      },
    },
    scales: {
      x: {
        type: 'linear',
        min: opts.min,
        max: opts.max,
        grid,
        border,
        afterBuildTicks: (s: any) => { s.ticks = opts.xTicks.map(value => ({ value })); },
        afterFit: (s: any) => { s.height = 58.5; },
        ticks: {
          color: '#000',
          font: { size: 19 },
          padding: 6,
          maxRotation: 0,
          autoSkip: false,
          callback: (v: number) => minus(v),
        },
        title: { display: true, text: opts.xTitle, color: '#000', font: { size: 24.8 }, padding: { top: 0, bottom: 4.5 } },
      },
      y: {
        type: 'linear',
        min: 0,
        max: 18,
        grid,
        border,
        afterFit: (s: any) => { s.width = opts.axisWidth; },
        ticks: { display: opts.showY, stepSize: 2, color: '#000', font: { size: 19 }, padding: 5 },
        title: { display: opts.showY, text: 'Altitude (km)', color: '#000', font: { size: 24.8 }, padding: { top: 6.5, bottom: 0 } },
      },
    },
  };
}

export default function App() {
  const leftRef = useRef<HTMLCanvasElement>(null);
  const rightRef = useRef<HTMLCanvasElement>(null);
  const barRef = useRef<HTMLCanvasElement>(null);

  useEffect(() => {
    document.body.style.margin = '0';
    Chart.defaults.font.family = '"DejaVu Sans"';

    const left = new Chart(leftRef.current!, {
      type: 'scatter',
      data: panelData(leftBands, leftBlack, leftGrey) as any,
      options: panelOptions({
        title: ['181009H2 (MICHAEL)', '223600 to 230713 UTC'],
        xTitle: 'Inbound distance from center (n mi)',
        min: -120, max: 0, xTicks: xTicksLeft, showY: true, axisWidth: 65.3, padRight: 17,
      }) as any,
      plugins: [panelPlugin(leftLabels, leftNotes, [lHoleA, lHoleB])],
    });

    const right = new Chart(rightRef.current!, {
      type: 'scatter',
      data: panelData(rightBands, rightBlack, rightGrey) as any,
      options: panelOptions({
        title: ['181009H2 (MICHAEL)', '230713 to 233300 UTC'],
        xTitle: 'Outbound distance from center (n mi)',
        min: 0, max: 120, xTicks: xTicksRight, showY: false, axisWidth: 14.3, padRight: 32.5,
      }) as any,
      plugins: [panelPlugin(rightLabels, rightNotes, [])],
    });

    const bar = new Chart(barRef.current!, {
      type: 'bar',
      data: {
        labels: [''],
        datasets: levels.map((lo, i) => ({
          data: [[lo, lo + 5]],
          backgroundColor: levelColors[i],
          borderColor: '#000',
          borderWidth: 1,
          borderSkipped: false,
          barPercentage: 1,
          categoryPercentage: 1,
          grouped: false,
        })),
      } as any,
      options: {
        responsive: false,
        animation: false,
        events: [],
        layout: { padding: { left: 11.5, top: 62.6, bottom: 58.5 } },
        plugins: { legend: { display: false }, tooltip: { enabled: false } },
        scales: {
          x: { display: false },
          y: {
            position: 'right',
            min: -30,
            max: 30,
            grid: { display: false },
            border: { display: false },
            afterFit: (s: any) => { s.width = 51; },
            ticks: { stepSize: 10, color: '#000', font: { size: 19 }, padding: 5, callback: (v: number) => minus(v) },
          },
        },
      } as any,
    });

    return () => {
      left.destroy();
      right.destroy();
      bar.destroy();
    };
  }, []);

  return (
    <div style={{ position: 'relative', width: 1630, height: 762, overflow: 'hidden', background: '#fff' }}>
      <canvas ref={leftRef} width={835} height={762} style={{ position: 'absolute', left: 0, top: 0 }} />
      <canvas ref={rightRef} width={760} height={762} style={{ position: 'absolute', left: 810, top: 0 }} />
      <canvas ref={barRef} width={100} height={762} style={{ position: 'absolute', left: 1530, top: 0 }} />
    </div>
  );
}
